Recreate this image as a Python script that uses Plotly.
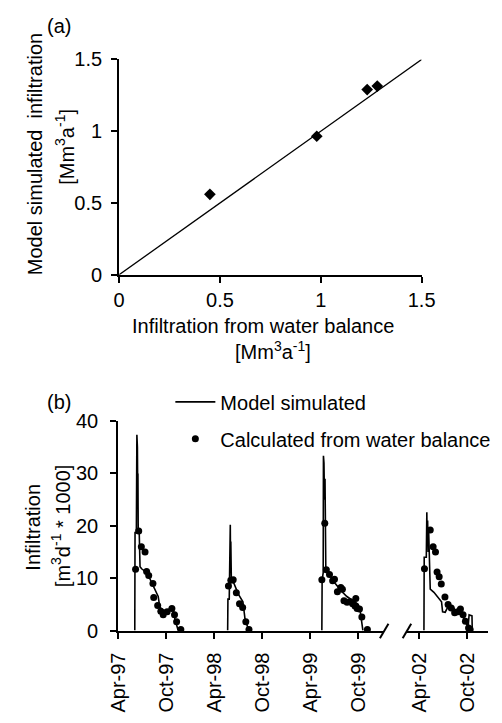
import plotly.graph_objects as go

W, H = 502, 723

# ---------------- Panel (a) data ----------------
wb_infiltration = [0.45, 0.98, 1.23, 1.28]
model_infiltration = [0.56, 0.965, 1.29, 1.315]
one_to_one = [0, 1.5]

# ---------------- Panel (b) data ----------------
# None separates the seasons (the line lies on the zero axis in between)
model_dates_97_99 = [
    "1997-06-03", "1997-06-04", "1997-06-09", "1997-06-11", "1997-06-12", "1997-06-13",
    "1997-06-14", "1997-06-15", "1997-06-16", "1997-06-20", "1997-06-23", "1997-06-29",
    "1997-07-20", "1997-08-13", "1997-08-31", "1997-09-06", "1997-09-20", "1997-10-10",
    "1997-10-28", "1997-11-03", "1997-11-12", "1997-11-15", None,
    "1998-05-22", "1998-05-23", "1998-05-28", "1998-05-29", "1998-06-01", "1998-06-02",
    "1998-06-03", "1998-06-05", "1998-06-15", "1998-07-01", "1998-07-19", "1998-07-27",
    "1998-08-05", "1998-08-17", None,
    "1999-05-15", "1999-05-16", "1999-05-20", "1999-05-21", "1999-05-22", "1999-05-23",
    "1999-05-25", "1999-05-27", "1999-05-30", "1999-06-03", "1999-06-17", "1999-07-05",
    "1999-07-27", "1999-08-18", "1999-09-12", "1999-09-30", "1999-10-07", "1999-10-11",
    "1999-10-18",
]
model_values_97_99 = [
    0, 18.7, 18.7, 37.4, 31, 35, 28, 30, 19.5, 18.5, 12.2, 11.8,
    11.0, 8.3, 6.5, 4.5, 3.8, 4.0, 3.8, 2.1, 0.5, 0, None,
    0, 6.0, 6.0, 13.7, 20.2, 13, 17, 9.5, 9.0, 7.0, 5.5, 2.2, 0.8, 0, None,
    0, 9.7, 11, 33.4, 27, 32, 25, 29, 12, 11.6, 10.3, 9.0,
    7.6, 6.5, 5.6, 5.0, 4.0, 2.5, 0,
]

model_dates_02 = [
    "2002-04-19", "2002-04-20", "2002-04-28", "2002-04-30", "2002-05-01", "2002-05-03",
    "2002-05-05", "2002-05-07", "2002-05-11", "2002-05-13", "2002-05-27", "2002-06-14",
    "2002-06-25", "2002-06-29", "2002-07-09", "2002-07-24", "2002-08-07", "2002-08-25",
    "2002-09-12", "2002-09-23", "2002-10-04", "2002-10-08", "2002-10-19", "2002-10-20",
]
model_values_02 = [
    0, 14.0, 14.0, 22.6, 18, 21, 15, 19, 11.6, 7.9, 7.3, 6.2,
    5.5, 3.6, 3.5, 5.0, 4.5, 3.5, 2.7, 2.0, 0.5, 3.0, 2.8, 0,
]

calc_dates_97_99 = [
    "1997-06-06", "1997-06-18", "1997-06-28", "1997-07-12", "1997-07-18", "1997-07-26",
    "1997-08-11", "1997-08-14", "1997-08-29", "1997-09-10", "1997-09-19", "1997-10-04",
    "1997-10-22", "1997-11-01", "1997-11-09", "1997-11-25",
    "1998-05-25", "1998-06-03", "1998-06-12", "1998-06-24", "1998-07-06", "1998-07-18",
    "1998-07-30", "1998-08-11",
    "1999-05-15", "1999-05-26", "1999-06-01", "1999-06-13", "1999-06-25", "1999-07-02",
    "1999-07-13", "1999-07-26", "1999-08-01", "1999-08-07", "1999-08-19", "1999-08-31",
    "1999-09-09", "1999-09-18", "1999-09-21", "1999-09-26", "1999-10-05", "1999-10-14",
    "1999-11-04",
]
calc_values_97_99 = [
    11.7, 19.0, 16.0, 15.0, 11.3, 10.5, 9.0, 6.3, 4.8, 3.7, 3.0, 3.6, 4.2, 3.0, 1.7, 0.2,
    8.5, 9.6, 9.7, 7.2, 5.1, 4.4, 1.7, 0.2,
    9.7, 20.5, 11.6, 10.7, 9.5, 9.8, 7.4, 8.2, 7.9, 5.7, 5.4, 5.5, 5.1, 4.7, 6.1, 4.2,
    4.1, 2.6, 0.2,
]
calc_dates_02 = [
    "2002-04-21", "2002-05-13", "2002-05-24", "2002-06-02", "2002-06-08", "2002-06-16",
    "2002-06-24", "2002-07-08", "2002-07-20", "2002-08-01", "2002-08-14", "2002-08-26",
    "2002-09-05", "2002-09-15", "2002-09-24", "2002-10-06", "2002-10-12",
]
calc_values_02 = [
    11.8, 19.2, 16.0, 15.0, 11.2, 10.3, 8.9, 6.4, 5.0, 4.3, 3.4, 3.6, 4.1, 3.0, 1.8, 0.5, 0.2,
]

ticks_a = [0, 0.5, 1, 1.5]
ticktext_a = ["0", "0.5", "1", "1.5"]
ticks_b_y = [0, 10, 20, 30, 40]


def px(x):
    return x / W


def py(y):
    return 1 - y / H


FONT = "Liberation Sans, Arial, sans-serif"
BLACK = "black"

fig = go.Figure()

# Panel (a)
fig.add_trace(go.Scatter(x=one_to_one, y=one_to_one, mode="lines",
                         line=dict(color=BLACK, width=1.3), showlegend=False,
                         xaxis="x", yaxis="y"))
fig.add_trace(go.Scatter(x=wb_infiltration, y=model_infiltration, mode="markers",
                         marker=dict(symbol="diamond", size=9, color=BLACK),
                         showlegend=False, xaxis="x", yaxis="y", cliponaxis=False))

# Panel (b)
fig.add_trace(go.Scatter(x=model_dates_97_99, y=model_values_97_99, mode="lines",
                         line=dict(color=BLACK, width=1.6), name="Model simulated",
                         legendgroup="m", xaxis="x2", yaxis="y2", cliponaxis=False,
                         connectgaps=False))
fig.add_trace(go.Scatter(x=model_dates_02, y=model_values_02, mode="lines",
                         line=dict(color=BLACK, width=1.6), showlegend=False,
                         legendgroup="m", xaxis="x3", yaxis="y2", cliponaxis=False))
fig.add_trace(go.Scatter(x=calc_dates_97_99, y=calc_values_97_99, mode="markers",
                         marker=dict(symbol="circle", size=7, color=BLACK),
                         name="Calculated from water balance", legendgroup="c",
                         xaxis="x2", yaxis="y2", cliponaxis=False))
fig.add_trace(go.Scatter(x=calc_dates_02, y=calc_values_02, mode="markers",
                         marker=dict(symbol="circle", size=7, color=BLACK),
                         showlegend=False, legendgroup="c",
                         xaxis="x3", yaxis="y2", cliponaxis=False))

axis_style = dict(showline=True, linecolor=BLACK, linewidth=2, ticks="outside",
                  ticklen=6, tickwidth=2, tickcolor=BLACK, showgrid=False,
                  zeroline=False, tickfont=dict(family=FONT, size=20, color=BLACK))

fig.update_layout(
    width=W, height=H, autosize=False,
    margin=dict(l=0, r=0, t=0, b=0),
    paper_bgcolor="white", plot_bgcolor="white",
    font=dict(family=FONT, size=20, color=BLACK),
    xaxis=dict(domain=[px(113), px(432)], range=[0, 1.5], tickvals=ticks_a,
               ticktext=ticktext_a, anchor="y", **axis_style),
    yaxis=dict(domain=[py(272), py(50)], range=[0, 1.5], tickvals=ticks_a,
               ticktext=ticktext_a, anchor="x", ticklabelstandoff=5, **axis_style),
    xaxis2=dict(domain=[px(112), px(392)], type="date",
                range=["1997-04-01", "2000-01-05"], tick0="1997-04-01", dtick="M6",
                tickformat="%b-%y", tickangle=-90, anchor="y2", ticklabelstandoff=6,
                **axis_style),
    xaxis3=dict(domain=[px(417), 1.0], type="date",
                range=["2002-02-15", "2002-12-19"], tick0="2002-04-01", dtick="M6",
                tickformat="%b-%y", tickangle=-90, anchor="y2", ticklabelstandoff=6,
                **axis_style),
    yaxis2=dict(domain=[py(639), py(423)], range=[0, 40], tickvals=ticks_b_y,
                anchor="x2", ticklabelstandoff=8, **axis_style),
    legend=dict(x=px(167), y=py(383), xanchor="left", yanchor="top",
                bgcolor="rgba(0,0,0,0)", font=dict(family=FONT, size=20, color=BLACK),
                tracegroupgap=8, itemwidth=40, traceorder="grouped"),
)

ann = []


def add_text(text, x, y, angle=0, xanchor="center"):
    ann.append(dict(text=text, x=px(x), y=py(y), xref="paper", yref="paper",
                    showarrow=False, textangle=angle, xanchor=xanchor, yanchor="middle",
                    font=dict(family=FONT, size=20, color=BLACK)))


add_text("(a)", 50, 15)
add_text("Model simulated  infiltration", 25, 148, angle=-90)
add_text("[Mm<sup>3</sup>a<sup>-1</sup>]", 56, 140, angle=-90)
add_text("Infiltration from water balance", 265, 325)
add_text("[Mm<sup>3</sup>a<sup>-1</sup>]", 275, 350)
add_text("(b)", 50, 403)
add_text("Infiltration", 22, 532, angle=-90)
add_text("[m<sup>3</sup>d<sup>-1</sup> * 1000]", 52, 531, angle=-90)
fig.update_layout(annotations=ann)

# axis break marks
shapes = []
for x0, x1 in [(388, 397), (412, 421)]:
    shapes.append(dict(type="line", xref="paper", yref="paper",
                       x0=px(x0), y0=py(647), x1=px(x1), y1=py(632),
                       line=dict(color=BLACK, width=2)))
fig.update_layout(shapes=shapes)

fig.write_html("out.html")
